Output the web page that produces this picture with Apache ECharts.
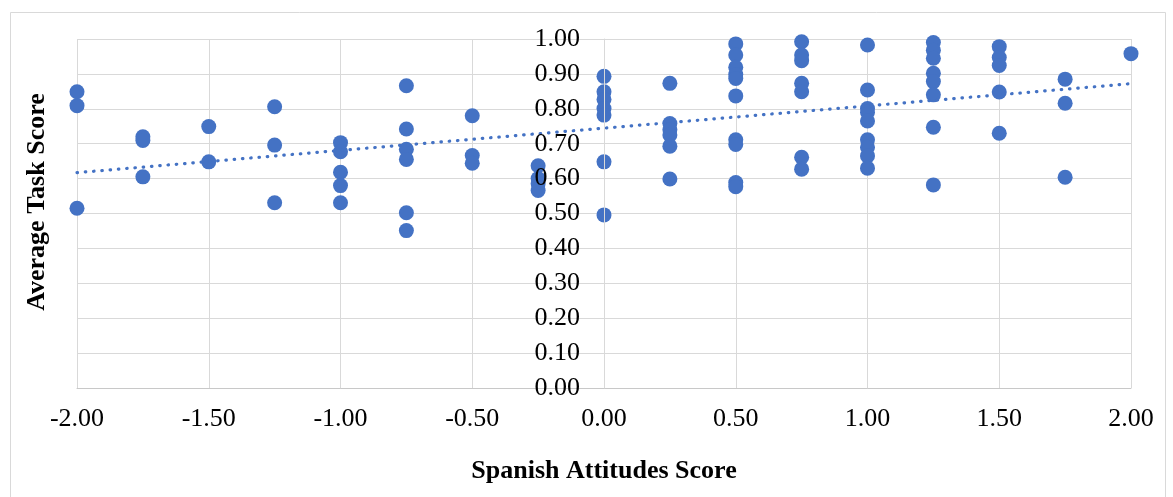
<!DOCTYPE html>
<html>
<head>
<meta charset="utf-8">
<script src="https://cdn.jsdelivr.net/npm/echarts@6/dist/echarts.min.js"></script>
<style>html,body{margin:0;padding:0;background:#fff;}#c{width:1173px;height:497px;}</style>
</head>
<body>
<div id="c"></div>
<script>
// Spanish Attitudes Score (x) and Average Task Score (y) for each respondent
const attitudes = [
  -2,-2,-2,
  -1.75,-1.75,-1.75,
  -1.5,-1.5,
  -1.25,-1.25,-1.25,
  -1,-1,-1,-1,-1,
  -0.75,-0.75,-0.75,-0.75,-0.75,-0.75,
  -0.5,-0.5,-0.5,
  -0.25,-0.25,-0.25,-0.25,
  0,0,0,0,0,0,0,
  0.25,0.25,0.25,0.25,0.25,0.25,
  0.5,0.5,0.5,0.5,0.5,0.5,0.5,0.5,0.5,0.5,
  0.75,0.75,0.75,0.75,0.75,0.75,0.75,
  1,1,1,1,1,1,1,1,1,
  1.25,1.25,1.25,1.25,1.25,1.25,1.25,1.25,
  1.5,1.5,1.5,1.5,1.5,
  1.75,1.75,1.75,
  2
];
const taskScores = [
  0.849,0.809,0.515,
  0.720,0.709,0.605,
  0.749,0.648,
  0.806,0.696,0.531,
  0.703,0.677,0.618,0.580,0.531,
  0.866,0.742,0.684,0.655,0.502,0.451,
  0.780,0.666,0.644,
  0.637,0.600,0.585,0.566,
  0.893,0.849,0.827,0.801,0.782,0.648,0.496,
  0.873,0.758,0.740,0.725,0.693,0.599,
  0.986,0.954,0.919,0.898,0.887,0.837,0.711,0.698,0.589,0.577,
  0.992,0.954,0.938,0.873,0.849,0.661,0.627,
  0.983,0.854,0.801,0.790,0.765,0.711,0.690,0.665,0.630,
  0.990,0.968,0.945,0.902,0.878,0.840,0.747,0.582,
  0.978,0.947,0.924,0.848,0.730,
  0.885,0.816,0.604,
  0.958
];
// Linear trendline end points
const trendX = [-2, 2];
const trendY = [0.617, 0.872];

const xTitle = 'Spanish Attitudes Score';
const yTitle = 'Average Task Score';

const points = attitudes.map((x, i) => [x, taskScores[i]]);
const trend = trendX.map((x, i) => [x, trendY[i]]);

const chart = echarts.init(document.getElementById('c'), null, {renderer: 'canvas'});
const serif = '"Liberation Serif", "Times New Roman", serif';
const gridLeft = 77;
chart.setOption({
  animation: false,
  backgroundColor: '#fff',
  grid: {left: gridLeft, right: 42, top: 39, bottom: 109, containLabel: false},
  graphic: [
    {type: 'rect', left: 8, top: 10, shape: {width: 1155, height: 520},
     style: {fill: 'none', stroke: '#d9d9d9', lineWidth: 1}, z: -10, silent: true},
    {type: 'text', x: 37, y: 202, rotation: Math.PI / 2,
     style: {text: yTitle, font: 'bold 26px ' + serif, fill: '#000',
             textAlign: 'center', textVerticalAlign: 'middle'}, z: 10}
  ],
  xAxis: {
    type: 'value', min: -2, max: 2, interval: 0.5,
    name: xTitle, nameLocation: 'middle', nameGap: 70,
    nameTextStyle: {fontFamily: serif, fontSize: 26, fontWeight: 'bold', color: '#000'},
    axisLine: {show: true, onZero: false, lineStyle: {color: '#c8c8c8', width: 1}},
    axisTick: {show: false},
    axisLabel: {fontFamily: serif, fontSize: 26, color: '#000', margin: 18,
                formatter: v => v.toFixed(2)},
    splitLine: {show: true, lineStyle: {color: '#d9d9d9', width: 1}}
  },
  yAxis: [
    {
      type: 'value', min: 0, max: 1, interval: 0.1, position: 'left', z: 5,
      axisLine: {show: true, onZero: false, lineStyle: {color: '#d9d9d9', width: 1}},
      axisTick: {show: false},
      axisLabel: {fontFamily: serif, fontSize: 26, color: '#000', margin: 24,
                  formatter: v => v.toFixed(2)},
      splitLine: {show: false}
    },
    {
      type: 'value', min: 0, max: 1, interval: 0.1, position: 'left', z: 0,
      axisLine: {show: false, onZero: false}, axisTick: {show: false}, axisLabel: {show: false},
      splitLine: {show: true, lineStyle: {color: '#d9d9d9', width: 1}}
    }
  ],
  series: [
    {
      type: 'scatter', data: points, symbol: 'circle', symbolSize: 15,
      itemStyle: {color: '#4472C4', opacity: 1}, z: 2
    },
    {
      type: 'line', data: trend, symbol: 'none', z: 3,
      lineStyle: {color: '#4472C4', width: 3.2, type: [0.5, 7.8], cap: 'round'}
    }
  ]
});
// Place the labelled y axis where x = 0, using the x axis scale
const zeroPx = chart.convertToPixel({xAxisIndex: 0}, 0);
chart.setOption({yAxis: [{offset: -(zeroPx - gridLeft)}, {}]});
</script>
</body>
</html>
